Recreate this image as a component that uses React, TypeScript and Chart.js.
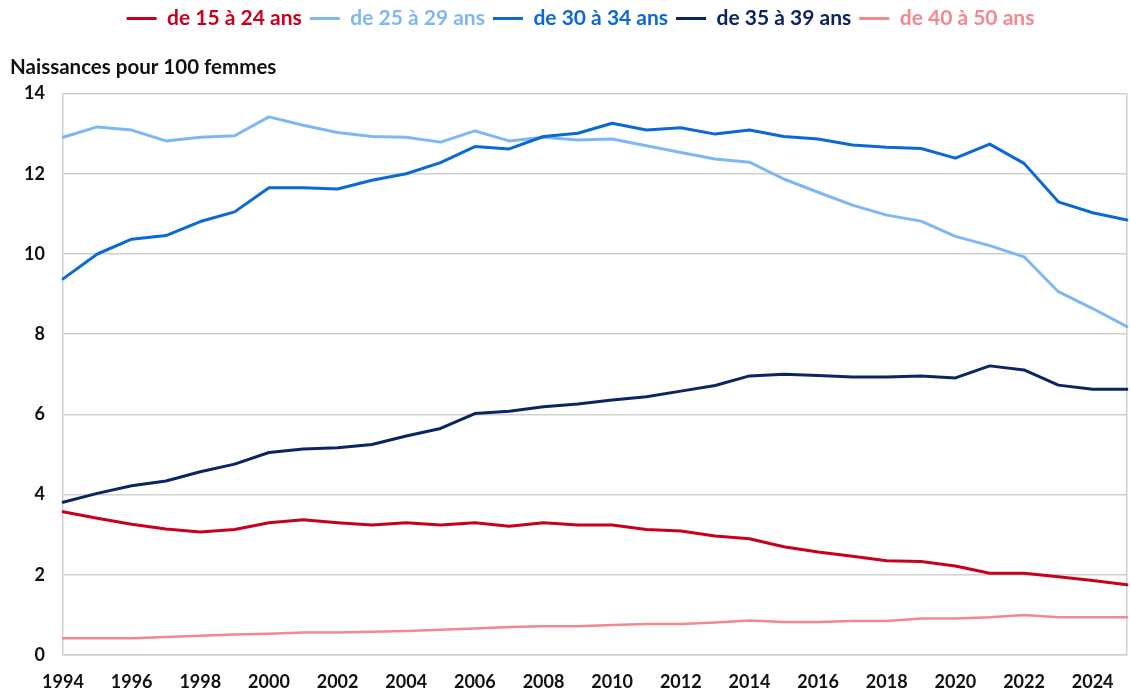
import React, { useEffect, useRef } from "react";
import { Chart, registerables } from "chart.js";

Chart.register(...registerables);

const years = [
  "1994", "1995", "1996", "1997", "1998", "1999", "2000", "2001", "2002", "2003",
  "2004", "2005", "2006", "2007", "2008", "2009", "2010", "2011", "2012", "2013",
  "2014", "2015", "2016", "2017", "2018", "2019", "2020", "2021", "2022", "2023",
  "2024", "2025",
];

const age15_24 = [3.57, 3.41, 3.26, 3.14, 3.07, 3.13, 3.30, 3.37, 3.30, 3.24, 3.30, 3.24, 3.30, 3.21, 3.30, 3.24, 3.24, 3.13, 3.09, 2.97, 2.90, 2.70, 2.57, 2.46, 2.35, 2.33, 2.22, 2.04, 2.04, 1.95, 1.86, 1.75];
const age25_29 = [12.91, 13.17, 13.09, 12.82, 12.91, 12.95, 13.42, 13.21, 13.03, 12.93, 12.91, 12.79, 13.07, 12.82, 12.91, 12.84, 12.87, 12.70, 12.53, 12.37, 12.29, 11.87, 11.54, 11.22, 10.97, 10.82, 10.44, 10.21, 9.93, 9.06, 8.64, 8.19];
const age30_34 = [9.38, 10.0, 10.37, 10.46, 10.81, 11.05, 11.65, 11.65, 11.62, 11.84, 12.0, 12.28, 12.68, 12.62, 12.93, 13.01, 13.26, 13.09, 13.15, 12.99, 13.09, 12.93, 12.87, 12.72, 12.66, 12.63, 12.39, 12.74, 12.26, 11.30, 11.03, 10.85];
const age35_39 = [3.81, 4.03, 4.22, 4.34, 4.57, 4.76, 5.05, 5.14, 5.17, 5.25, 5.46, 5.65, 6.02, 6.08, 6.19, 6.26, 6.36, 6.44, 6.58, 6.72, 6.96, 7.00, 6.97, 6.93, 6.93, 6.96, 6.91, 7.21, 7.11, 6.73, 6.63, 6.63];
const age40_50 = [0.42, 0.42, 0.42, 0.45, 0.48, 0.51, 0.53, 0.56, 0.56, 0.58, 0.60, 0.63, 0.66, 0.70, 0.72, 0.72, 0.75, 0.77, 0.77, 0.81, 0.86, 0.82, 0.82, 0.85, 0.85, 0.91, 0.91, 0.94, 1.00, 0.94, 0.94, 0.94];

const seriesNames = ["de 15 à 24 ans", "de 25 à 29 ans", "de 30 à 34 ans", "de 35 à 39 ans", "de 40 à 50 ans"];
const seriesValues = [age15_24, age25_29, age30_34, age35_39, age40_50];
const seriesColors = ["#C8001E", "#7DB8F5", "#0B69D6", "#0D2462", "#F28890"];
const seriesWidths = [3, 3, 3, 3, 2.5];

const yTicks = [0, 2, 4, 6, 8, 10, 12, 14];
const axisTitle = "Naissances pour 100 femmes";

const FONT = "Lato, 'Open Sans', sans-serif";

const legendShift = {
  id: "legendShift",
  afterLayout(chart: any) {
    const lg = chart.legend;
    if (lg) {
      lg.left += 12;
      lg.right += 12;
    }
  },
};

export default function App() {
  const ref = useRef<HTMLCanvasElement | null>(null);

  useEffect(() => {
    if (!ref.current) return;
    const chart = new Chart(ref.current, {
      type: "line",
      data: {
        labels: years,
        datasets: seriesNames.map((name, i) => ({
          label: name,
          data: seriesValues[i],
          borderColor: seriesColors[i],
          backgroundColor: seriesColors[i],
          borderWidth: seriesWidths[i],
          pointRadius: 0,
          tension: 0,
          fill: false,
          borderJoinStyle: "round" as const,
          borderCapStyle: "round" as const,
          order: 5 - i,
        })),
      },
      plugins: [legendShift],
      options: {
        animation: false,
        responsive: false,
        events: [],
        layout: { padding: { left: 10, right: 3, top: 0, bottom: 0 } },
        plugins: {
          tooltip: { enabled: false },
          legend: {
            display: true,
            position: "top",
            weight: 3000,
            labels: {
              font: { family: FONT, size: 21, weight: "bold" },
              boxWidth: 30,
              boxHeight: 3,
              padding: 8,
              generateLabels: (c: any) =>
                seriesNames.map((name, i) => ({
                  text: name,
                  fillStyle: seriesColors[i],
                  strokeStyle: seriesColors[i],
                  lineWidth: 0,
                  fontColor: seriesColors[i],
                  hidden: false,
                  datasetIndex: i,
                })),
            },
          },
          title: {
            display: true,
            text: axisTitle,
            align: "start",
            position: "top",
            weight: 1000,
            color: "#111",
            font: { family: FONT, size: 20.5, weight: "bold" },
            padding: { top: 16, bottom: 14 },
          },
        },
        scales: {
          x: {
            type: "category",
            offset: false,
            grid: {
              display: true,
              drawTicks: false,
              color: (ctx: any) => (ctx.index === years.length - 1 ? "#d0d0d0" : "transparent"),
              lineWidth: 1.5,
            },
            border: { display: true, color: "#cfcfcf", width: 1.5 },
            ticks: {
              autoSkip: false,
              maxRotation: 0,
              minRotation: 0,
              padding: 16,
              color: "#111",
              font: { family: FONT, size: 18, weight: "bold" },
              callback: (_v: any, idx: number) => (idx % 2 === 0 ? years[idx] : ""),
            },
            afterFit: (s: any) => {
              s.height = 40;
              s.paddingRight = 0;
              s.paddingLeft = 0;
            },
          },
          y: {
            min: 0,
            max: 14,
            afterBuildTicks: (s: any) => {
              s.ticks = yTicks.map((v) => ({ value: v }));
            },
            grid: { color: "#d0d0d0", lineWidth: 1.5, drawTicks: false },
            border: { display: true, color: "#cfcfcf", width: 1.5 },
            ticks: {
              padding: 18,
              color: "#111",
              font: { family: FONT, size: 18, weight: "bold" },
            },
            afterFit: (s: any) => {
              s.width = 53;
            },
          },
        },
      },
    });
    return () => chart.destroy();
  }, []);

  return (
    <div style={{ position: "absolute", left: 0, top: 0, width: 1130, height: 695, background: "#fff" }}>
      <canvas ref={ref} width={1130} height={695} />
    </div>
  );
}
